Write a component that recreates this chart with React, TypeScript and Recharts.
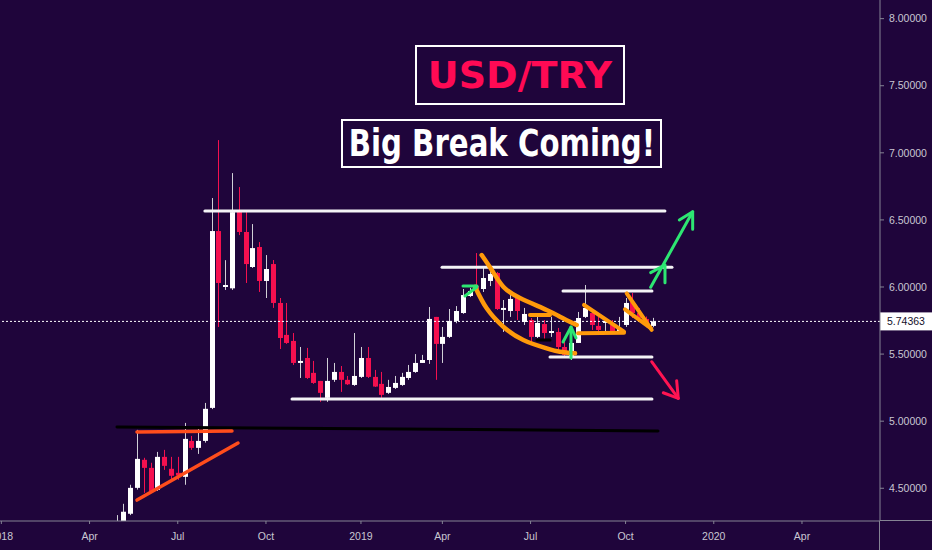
import React from 'react';
import { ComposedChart, Bar, Line, XAxis, YAxis, ReferenceLine } from 'recharts';

// Weekly USD/TRY candles, week index 0 = week of 2018-04-30
const opens = [4.18, 4.22, 4.31, 4.503, 4.712, 4.652, 4.488, 4.734, 4.645, 4.615, 4.585, 4.853, 4.801, 4.853, 5.099, 6.417, 6.0, 5.99, 6.565, 6.41, 6.149, 6.298, 6.045, 6.171, 5.881, 5.643, 5.598, 5.434, 5.471, 5.36, 5.3, 5.174, 5.308, 5.367, 5.308, 5.27, 5.33, 5.471, 5.33, 5.278, 5.211, 5.248, 5.27, 5.322, 5.367, 5.434, 5.456, 5.777, 5.576, 5.628, 5.747, 5.806, 5.933, 6.007, 5.985, 6.045, 6.104, 5.829, 5.821, 5.925, 5.739, 5.754, 5.628, 5.724, 5.657, 5.665, 5.553, 5.479, 5.583, 5.777, 5.806, 5.71, 5.732, 5.717, 5.665, 5.717, 5.888, 5.806, 5.762, 5.71];
const highs = [4.3, 4.384, 4.526, 4.935, 4.727, 4.69, 4.771, 4.786, 4.734, 4.734, 4.987, 4.89, 4.95, 5.136, 6.663, 7.095, 6.2, 6.849, 6.745, 6.558, 6.469, 6.335, 6.238, 6.201, 5.918, 5.881, 5.657, 5.553, 5.546, 5.449, 5.3, 5.471, 5.434, 5.411, 5.337, 5.657, 5.553, 5.553, 5.382, 5.367, 5.308, 5.337, 5.36, 5.419, 5.5, 5.494, 5.851, 5.777, 5.702, 5.836, 5.858, 5.985, 5.993, 6.253, 6.141, 6.149, 6.112, 5.903, 5.94, 5.94, 5.844, 5.769, 5.791, 5.754, 5.777, 5.695, 5.62, 5.605, 5.814, 6.015, 5.829, 5.777, 5.769, 5.754, 5.777, 5.918, 5.955, 5.844, 5.78, 5.77];
const lows = [4.15, 4.2, 4.3, 4.49, 4.466, 4.466, 4.48, 4.637, 4.548, 4.563, 4.526, 4.786, 4.756, 4.84, 5.09, 5.702, 5.978, 5.978, 6.387, 6.03, 6.142, 5.963, 5.918, 5.844, 5.538, 5.576, 5.419, 5.322, 5.315, 5.278, 5.144, 5.144, 5.293, 5.218, 5.27, 5.263, 5.322, 5.322, 5.255, 5.174, 5.203, 5.24, 5.263, 5.308, 5.36, 5.434, 5.427, 5.308, 5.434, 5.62, 5.73, 5.8, 5.925, 5.978, 5.963, 6.007, 5.829, 5.665, 5.777, 5.754, 5.717, 5.59, 5.62, 5.605, 5.628, 5.531, 5.479, 5.456, 5.583, 5.769, 5.68, 5.665, 5.665, 5.657, 5.657, 5.702, 5.769, 5.739, 5.7, 5.7];
const closes = [4.24, 4.325, 4.503, 4.719, 4.652, 4.474, 4.734, 4.667, 4.593, 4.595, 4.868, 4.801, 4.853, 5.092, 6.417, 6.03, 6.015, 6.558, 6.41, 6.171, 6.29, 6.045, 6.134, 5.881, 5.62, 5.583, 5.434, 5.449, 5.322, 5.285, 5.211, 5.3, 5.367, 5.308, 5.275, 5.337, 5.471, 5.33, 5.258, 5.196, 5.255, 5.285, 5.33, 5.367, 5.434, 5.456, 5.762, 5.576, 5.628, 5.747, 5.821, 5.94, 5.97, 5.985, 6.067, 6.097, 5.836, 5.844, 5.911, 5.821, 5.799, 5.628, 5.732, 5.657, 5.672, 5.553, 5.494, 5.583, 5.769, 5.844, 5.717, 5.68, 5.747, 5.665, 5.695, 5.881, 5.806, 5.769, 5.732, 5.74363];

const lastPrice = 5.74363;

// x-axis ticks (week index) and labels
const tickWeeks = [-17, -4, 9, 22, 36, 48, 61, 75, 88, 101];
const tickLabels = ['2018', 'Apr', 'Jul', 'Oct', '2019', 'Apr', 'Jul', 'Oct', '2020', 'Apr'];
const priceTicks = [4.5, 5, 5.5, 6, 6.5, 7, 7.5, 8];

// drawings: [week, price] points
const whiteLevels = [
  [[13.0, 6.566], [80.8, 6.566]],
  [[47.95, 6.147], [81.84, 6.147]],
  [[65.78, 5.97], [78.89, 5.97]],
  [[63.86, 5.478], [78.89, 5.478]],
  [[25.84, 5.165], [78.89, 5.165]],
];
const blackLevels = [
  [[0.04, 4.957], [79.78, 4.927]],
  [[61.94, 5.605], [63.86, 5.605]],
];
const triangleLines = [
  [[2.99, 4.919], [16.99, 4.927]],
  [[2.99, 4.412], [17.88, 4.837]],
];
const channelCurves = [
  [[53.79, 6.238], [55.27, 6.127], [56.98, 6.002], [59.44, 5.918], [63.37, 5.829], [65.33, 5.779], [67.8, 5.717]],
  [[52.81, 6.002], [54.53, 5.841], [56.98, 5.704], [59.93, 5.605], [63.37, 5.543], [65.33, 5.518], [67.55, 5.506]],
];
const orangeLines = [
  [[60.91, 5.791], [63.86, 5.791]],
  [[68.88, 5.866], [74.77, 5.667]],
  [[68.0, 5.655], [74.77, 5.659]],
  [[75.17, 5.953], [78.85, 5.68]],
  [[74.91, 5.834], [78.75, 5.692]],
];
const greenArrows = [
  [[78.7, 5.998], [84.89, 6.561]],
  [[82.92, 6.499], [84.89, 6.561], [84.89, 6.43]],
  [[78.7, 6.107], [80.81, 6.164], [80.81, 6.032]],
  [[51.04, 6.007], [53.1, 6.007]],
  [[51.33, 5.933], [53.1, 6.0]],
  [[66.96, 5.471], [66.96, 5.702]],
  [[65.78, 5.59], [66.96, 5.702], [67.69, 5.62]],
];
const redArrows = [
  [[78.85, 5.443], [82.77, 5.17]],
  [[80.56, 5.212], [82.77, 5.17], [82.53, 5.302]],
];

const BG = '#1f053b';
const UP = '#ffffff';
const DOWN = '#f5104f';
const AXIS = '#858494';
const LABEL = '#c9c7d2';

const candles = opens.map((o, k) => ({
  i: k,
  o,
  h: highs[k],
  l: lows[k],
  c: closes[k],
  range: [lows[k], highs[k]],
}));

const toPts = (pts: number[][]) => pts.map(([i, v]) => ({ i, v }));

const Candle = (props: any) => {
  const { x, y, width, height, payload } = props;
  if (payload == null || x == null || y == null) return null;
  const { o, h, l, c } = payload;
  const up = c >= o;
  const top = Math.min(y, y + height);
  const hh = Math.abs(height);
  const span = h - l || 1e-6;
  const py = (v: number) => top + ((h - v) / span) * hh;
  const cx = Math.round(x + width / 2);
  const bTop = py(Math.max(o, c));
  const bBot = py(Math.min(o, c));
  return (
    <g>
      <line x1={cx + 0.5} x2={cx + 0.5} y1={top} y2={top + hh} stroke={up ? '#d0d0d6' : DOWN} strokeWidth={1} />
      <rect x={cx - 2} y={bTop} width={5} height={Math.max(1.2, bBot - bTop)} fill={up ? UP : DOWN} />
    </g>
  );
};

const PriceTag = (props: any) => {
  const vb = props.viewBox || {};
  const x = (vb.x || 0) + (vb.width || 0);
  const y = vb.y || 0;
  return (
    <g>
      <rect x={x} y={y - 9} width={52} height={18} fill="#ffffff" />
      <text x={x + 7} y={y + 4} fontSize={10.5} fontFamily="Liberation Sans, Arial, sans-serif" fill="#14102a">
        {lastPrice.toFixed(5)}
      </text>
    </g>
  );
};

const drawLines = (sets: number[][][], color: string, width: number, key: string, curve = false) =>
  sets.map((pts, k) => (
    <Line
      key={key + k}
      data={toPts(pts)}
      dataKey="v"
      type={curve ? 'natural' : 'linear'}
      stroke={color}
      strokeWidth={width}
      strokeLinecap="round"
      strokeLinejoin="round"
      dot={false}
      activeDot={false}
      isAnimationActive={false}
      legendType="none"
    />
  ));

export default function App() {
  return (
    <div style={{ position: 'absolute', left: 0, top: 0, width: 932, height: 550, background: BG, overflow: 'hidden' }}>
      <ComposedChart
        width={932}
        height={550}
        data={candles}
        margin={{ top: 0, right: 0, bottom: 0, left: 0 }}
        style={{ background: BG }}
      >
        <XAxis
          dataKey="i"
          type="number"
          domain={[-17.2, 112.5]}
          allowDataOverflow
          ticks={tickWeeks}
          tickFormatter={(v: number) => tickLabels[tickWeeks.indexOf(v)] ?? ''}
          height={29}
          stroke={AXIS}
          tickSize={3}
          tickMargin={9}
          tick={{ fill: LABEL, fontSize: 10.5, fontFamily: 'Liberation Sans, Arial, sans-serif' }}
          interval={0}
        />
        <YAxis
          orientation="right"
          type="number"
          domain={[4.256, 8.139]}
          allowDataOverflow
          ticks={priceTicks}
          tickFormatter={(v: number) => v.toFixed(5)}
          width={52}
          stroke={AXIS}
          tickSize={4}
          tickMargin={5}
          tick={{ fill: LABEL, fontSize: 10.5, fontFamily: 'Liberation Sans, Arial, sans-serif' }}
          interval={0}
        />
        <Bar dataKey="range" barSize={5} shape={Candle} isAnimationActive={false} />
        <ReferenceLine y={lastPrice} stroke="#ffffff" strokeDasharray="2 2" strokeWidth={1} label={<PriceTag />} />
        {drawLines(whiteLevels, '#f4f4f6', 3, 'w')}
        {drawLines(blackLevels, '#000000', 3, 'b')}
        {drawLines(triangleLines, '#ff4d1c', 3.5, 't')}
        {drawLines(channelCurves, '#ff9a0a', 4.5, 'c', true)}
        {drawLines(orangeLines, '#ff9a0a', 4, 'o')}
        {drawLines(greenArrows, '#2de672', 3, 'g')}
        {drawLines(redArrows, '#ff1452', 3, 'r')}
      </ComposedChart>
      <div style={{ position: 'absolute', left: 879, top: 521, width: 1, height: 29, background: AXIS }} />
      <div style={{ position: 'absolute', left: 880, top: 520, width: 52, height: 1, background: AXIS }} />
      <div
        style={{
          position: 'absolute',
          left: 415,
          top: 45,
          width: 206,
          height: 56,
          border: '2px solid #ffffff',
          background: BG,
          color: '#ff0a54',
          fontFamily: 'DejaVu Sans, sans-serif',
          fontWeight: 'bold',
          fontSize: 38,
          lineHeight: '56px',
          textAlign: 'center',
          whiteSpace: 'nowrap',
        }}
      >
        USD/TRY
      </div>
      <div
        style={{
          position: 'absolute',
          left: 341,
          top: 119,
          width: 317,
          height: 45,
          border: '2px solid #ffffff',
          background: BG,
          color: '#ffffff',
          fontFamily: 'DejaVu Sans, sans-serif',
          fontWeight: 'bold',
          fontSize: 37,
          lineHeight: '45px',
          whiteSpace: 'nowrap',
          display: 'flex',
          justifyContent: 'center',
        }}
      >
        <span style={{ display: 'inline-block', flexShrink: 0, transform: 'scaleX(0.79)', transformOrigin: 'center' }}>
          Big Break Coming!
        </span>
      </div>
    </div>
  );
}
